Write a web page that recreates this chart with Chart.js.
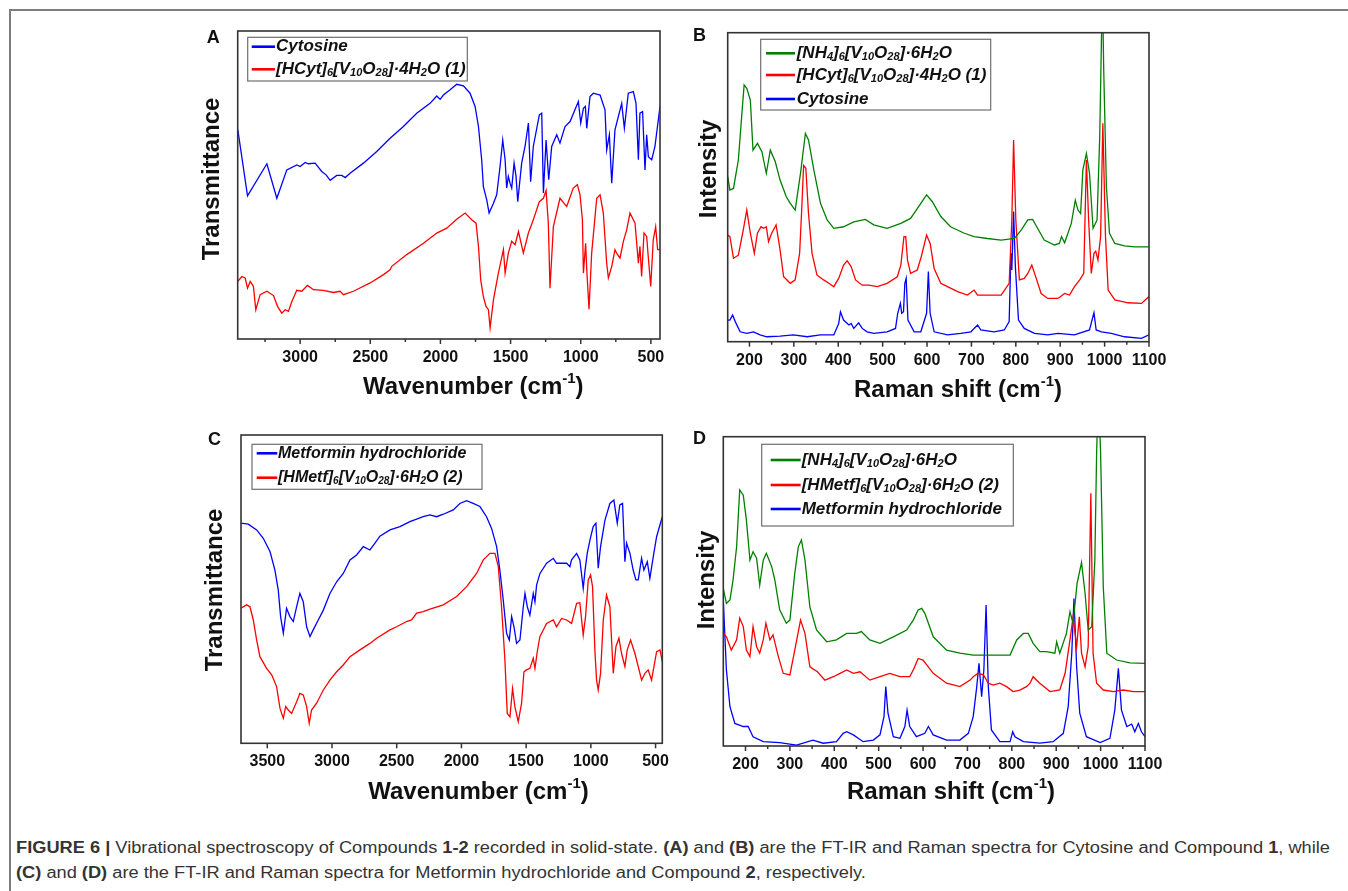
<!DOCTYPE html>
<html>
<head>
<meta charset="utf-8">
<title>Figure 6</title>
<script src="https://cdn.jsdelivr.net/npm/chart.js@4.4.1/dist/chart.umd.min.js"></script>
<style>
  html, body { margin: 0; padding: 0; background: #fff; }
  body { width: 1348px; height: 891px; position: relative; overflow: hidden; }
  .frame { position: absolute; left: 9px; top: 9px; width: 1345px; height: 890px; border-left: 2px solid #7d7d7d; border-top: 2px solid #7d7d7d; }
  canvas { position: absolute; }
  .cap { position: absolute; left: 16px; white-space: nowrap; font-family: "Liberation Sans Narrow", "Liberation Sans", Arial, sans-serif; font-size: 16px; line-height: 18px; color: #333; transform-origin: 0 0; }
</style>
</head>
<body>
<div class="frame"></div>
<canvas id="panelA" width="490" height="390" style="left:190px;top:20px"></canvas>
<canvas id="panelB" width="500" height="390" style="left:680px;top:20px"></canvas>
<canvas id="panelC" width="490" height="400" style="left:190px;top:420px"></canvas>
<canvas id="panelD" width="500" height="400" style="left:680px;top:420px"></canvas>
<div class="cap" id="cap1" style="top:839px"><b>FIGURE 6 |</b> Vibrational spectroscopy of Compounds <b>1-2</b> recorded in solid-state. <b>(A)</b> and <b>(B)</b> are the FT-IR and Raman spectra for Cytosine and Compound <b>1</b>, while</div>
<div class="cap" id="cap2" style="top:864px"><b>(C)</b> and <b>(D)</b> are the FT-IR and Raman spectra for Metformin hydrochloride and Compound <b>2</b>, respectively.</div>
<script>
"use strict";
// ---- Data (wavenumber / Raman shift in cm-1, intensity in relative units 0-100) ----
// A - FT-IR, Cytosine
const irCytX = [3444, 3375, 3237, 3166, 3095, 3024, 3000, 2964, 2941, 2893, 2846, 2815, 2786, 2739, 2703, 2679, 2644, 2549, 2454, 2359, 2264, 2169, 2074, 2026, 2002, 1979, 1931, 1884, 1836, 1789, 1753, 1729, 1706, 1694, 1670, 1653, 1622, 1599, 1575, 1556, 1539, 1528, 1516, 1504, 1492, 1475, 1461, 1449, 1421, 1397, 1373, 1357, 1338, 1295, 1278, 1266, 1247, 1228, 1207, 1171, 1148, 1112, 1076, 1017, 1000, 981, 967, 957, 934, 910, 862, 827, 815, 796, 779, 756, 708, 689, 661, 625, 606, 589, 578, 559, 542, 530, 518, 494, 471, 435];
const irCytY = [67.9, 46.5, 56.9, 45.7, 54.9, 56.5, 56.0, 57.3, 56.9, 57.1, 54.4, 53.3, 51.5, 53.1, 53.1, 52.4, 53.8, 57.1, 60.9, 65.2, 69.0, 73.3, 76.5, 78.9, 77.8, 79.2, 80.9, 82.7, 82.2, 79.8, 75.5, 69.0, 58.2, 49.5, 45.2, 40.9, 44.1, 46.8, 56.0, 64.6, 58.2, 49.0, 52.8, 50.6, 49.0, 57.1, 52.8, 44.6, 57.1, 62.5, 70.1, 51.1, 62.5, 72.8, 73.3, 47.4, 64.6, 51.7, 62.5, 66.3, 63.6, 69.0, 70.6, 77.1, 70.1, 74.9, 75.5, 68.4, 78.7, 79.8, 79.2, 74.4, 61.4, 66.3, 50.6, 67.9, 76.5, 68.4, 79.8, 80.3, 76.5, 58.2, 73.3, 73.8, 54.9, 66.3, 59.2, 58.2, 62.5, 75.5];
// A - FT-IR, compound 1
const irCyt1X = [3444, 3416, 3392, 3375, 3356, 3333, 3316, 3285, 3237, 3190, 3161, 3131, 3107, 3083, 3059, 3024, 2988, 2948, 2905, 2834, 2763, 2715, 2691, 2620, 2501, 2406, 2359, 2347, 2240, 2121, 2026, 1955, 1884, 1824, 1777, 1746, 1729, 1713, 1694, 1675, 1658, 1646, 1622, 1587, 1551, 1539, 1516, 1492, 1468, 1444, 1409, 1373, 1338, 1295, 1266, 1247, 1231, 1219, 1195, 1148, 1100, 1053, 1024, 1005, 988, 981, 965, 957, 941, 922, 886, 862, 839, 815, 803, 779, 756, 744, 720, 696, 672, 649, 613, 589, 578, 566, 549, 530, 518, 501, 483, 466, 452, 435];
const irCyt1Y = [18.7, 20.3, 19.8, 16.5, 18.7, 17.1, 9.5, 14.4, 15.5, 14.1, 10.6, 8.4, 9.5, 9.0, 12.2, 15.8, 15.5, 17.4, 16.0, 15.8, 15.1, 15.5, 14.4, 15.5, 18.2, 20.9, 22.5, 23.6, 27.4, 31.1, 34.4, 36.0, 38.9, 40.9, 38.7, 37.6, 30.1, 19.2, 13.8, 10.6, 9.5, 3.6, 12.8, 21.4, 29.0, 21.4, 27.9, 31.7, 30.6, 34.9, 27.9, 34.4, 38.7, 44.6, 45.7, 48.2, 37.6, 16.5, 36.5, 45.7, 43.0, 49.0, 50.1, 46.8, 38.7, 21.4, 31.1, 22.5, 9.7, 27.9, 45.7, 46.8, 40.9, 24.6, 19.8, 23.6, 29.0, 27.9, 26.3, 31.7, 35.5, 40.9, 37.6, 24.6, 30.1, 20.3, 34.4, 33.3, 26.3, 17.1, 32.2, 36.5, 29.0, 29.0];

// B - Raman, ammonium decavanadate
const ramanV10X = [151, 156, 164, 175, 183, 188, 194, 202, 208, 218, 228, 238, 247, 258, 269, 283, 292, 303, 315, 326, 333, 345, 360, 375, 390, 412, 435, 461, 480, 510, 541, 563, 586, 599, 612, 631, 653, 684, 706, 736, 767, 797, 812, 827, 838, 849, 864, 887, 898, 903, 910, 925, 934, 940, 946, 951, 959, 966, 974, 983, 989, 991, 995, 998, 1004, 1011, 1023, 1045, 1068, 1100];
const ramanV10Y = [53.4, 49.1, 49.6, 58.8, 73.9, 83.1, 82.0, 78.2, 62.0, 64.2, 61.5, 54.5, 62.0, 58.3, 52.3, 46.9, 44.8, 42.6, 54.5, 67.4, 65.3, 55.6, 44.8, 39.4, 36.7, 37.2, 38.8, 39.6, 37.8, 36.7, 38.3, 39.9, 44.8, 47.5, 45.3, 40.5, 37.2, 35.1, 34.0, 33.4, 32.9, 33.4, 36.1, 39.4, 39.6, 36.7, 32.9, 31.3, 31.8, 34.0, 32.0, 38.3, 45.8, 42.6, 41.5, 55.6, 60.9, 54.5, 36.7, 39.4, 66.3, 82.5, 115, 87.9, 50.2, 35.1, 31.8, 31.0, 30.7, 30.7];
// B - Raman, compound 1
const ramanCyt1X = [151, 156, 164, 175, 186, 194, 202, 211, 218, 226, 232, 238, 243, 250, 260, 268, 277, 292, 303, 313, 318, 322, 327, 333, 341, 352, 367, 379, 390, 401, 412, 420, 429, 439, 454, 469, 488, 510, 533, 541, 548, 552, 556, 563, 578, 587, 599, 607, 616, 631, 646, 669, 691, 706, 714, 736, 767, 785, 791, 795, 800, 808, 819, 827, 836, 846, 857, 872, 895, 910, 921, 932, 944, 953, 959, 964, 970, 976, 980, 985, 991, 996, 1002, 1008, 1023, 1053, 1083, 1100];
const ramanCyt1Y = [34.5, 34.0, 27.0, 28.0, 36.1, 42.6, 35.1, 28.6, 35.1, 37.2, 36.7, 37.2, 32.4, 35.1, 37.8, 30.7, 21.0, 18.9, 20.0, 28.6, 43.7, 57.0, 56.1, 41.5, 28.6, 21.6, 20.0, 18.9, 17.8, 20.5, 24.8, 26.2, 24.3, 20.0, 18.3, 18.3, 17.8, 18.9, 21.0, 24.8, 34.0, 34.0, 26.4, 22.1, 23.2, 27.5, 34.5, 31.8, 23.7, 18.9, 17.8, 16.2, 15.1, 16.7, 15.1, 15.1, 15.1, 18.9, 39.4, 65.3, 39.4, 20.0, 20.5, 22.1, 24.8, 20.5, 15.6, 14.0, 14.0, 15.6, 15.1, 17.8, 20.0, 22.1, 58.8, 39.4, 22.1, 28.6, 29.3, 26.4, 34.0, 70.7, 34.0, 16.7, 13.5, 12.6, 12.4, 14.6];
// B - Raman, Cytosine
const ramanCytX = [151, 156, 162, 168, 179, 194, 209, 224, 239, 269, 299, 330, 360, 390, 401, 405, 412, 424, 429, 435, 446, 454, 465, 480, 510, 529, 534, 540, 543, 547, 550, 553, 557, 571, 586, 599, 603, 607, 616, 646, 676, 699, 706, 714, 721, 751, 774, 785, 789, 791, 795, 799, 806, 819, 842, 872, 895, 932, 966, 976, 981, 993, 1015, 1045, 1083, 1100];
const ramanCytY = [7.0, 7.0, 8.6, 6.5, 3.2, 2.7, 3.2, 2.2, 1.6, 1.8, 2.2, 1.6, 2.2, 2.2, 5.9, 9.7, 7.0, 5.4, 5.9, 4.3, 6.1, 4.3, 3.2, 2.7, 3.2, 4.3, 9.2, 12.4, 9.2, 9.7, 18.9, 20.5, 7.0, 3.2, 3.2, 9.2, 22.7, 9.2, 3.2, 2.2, 2.7, 3.2, 4.3, 5.4, 3.8, 3.2, 3.8, 6.5, 28.6, 23.2, 42.1, 24.3, 7.0, 4.3, 2.7, 2.2, 2.7, 2.2, 3.8, 9.4, 3.8, 3.2, 2.7, 1.6, 1.1, 2.2];

// C - FT-IR, Metformin hydrochloride
const irMetX = [3703, 3647, 3582, 3531, 3479, 3441, 3415, 3397, 3376, 3351, 3325, 3299, 3273, 3248, 3222, 3196, 3170, 3145, 3106, 3067, 3016, 2964, 2913, 2861, 2810, 2758, 2707, 2668, 2630, 2552, 2475, 2398, 2295, 2243, 2192, 2140, 2063, 2012, 1960, 1909, 1857, 1806, 1767, 1728, 1703, 1677, 1651, 1630, 1612, 1594, 1574, 1548, 1522, 1509, 1491, 1471, 1445, 1432, 1419, 1393, 1342, 1290, 1265, 1187, 1162, 1149, 1110, 1085, 1059, 1046, 1028, 1007, 982, 961, 943, 925, 891, 853, 822, 796, 776, 755, 737, 724, 698, 673, 652, 634, 608, 590, 564, 544, 518, 492, 448];
const irMetY = [71.4, 71.1, 69.2, 66.5, 62.2, 56.2, 49.7, 41.1, 35.7, 43.8, 41.1, 39.5, 44.3, 48.6, 45.9, 37.8, 34.6, 36.8, 40.0, 43.2, 48.6, 52.4, 55.1, 59.5, 61.1, 63.8, 62.7, 64.9, 67.2, 69.2, 70.3, 71.9, 73.5, 74.1, 73.5, 74.3, 75.7, 77.8, 78.7, 77.8, 76.8, 73.5, 69.7, 63.8, 56.2, 46.5, 35.7, 33.5, 41.1, 37.8, 32.4, 33.5, 44.3, 48.6, 44.3, 41.6, 48.6, 45.9, 51.4, 55.1, 58.4, 60.0, 58.4, 58.4, 57.3, 59.5, 61.6, 59.5, 50.3, 55.7, 61.6, 65.9, 70.3, 71.4, 56.8, 63.8, 72.4, 77.8, 78.9, 71.4, 77.3, 77.8, 58.9, 64.9, 61.6, 56.2, 53.0, 53.0, 60.0, 56.2, 58.9, 53.5, 60.5, 67.0, 73.5];
// C - FT-IR, compound 2
const irMet2X = [3703, 3660, 3634, 3608, 3582, 3557, 3505, 3466, 3428, 3402, 3389, 3376, 3358, 3338, 3312, 3273, 3248, 3222, 3196, 3176, 3158, 3119, 3067, 3016, 2964, 2913, 2861, 2784, 2707, 2655, 2552, 2501, 2424, 2385, 2346, 2295, 2243, 2140, 2037, 1960, 1883, 1831, 1780, 1741, 1715, 1690, 1664, 1646, 1625, 1605, 1587, 1561, 1535, 1517, 1497, 1471, 1445, 1432, 1414, 1394, 1342, 1290, 1265, 1226, 1187, 1149, 1110, 1085, 1059, 1041, 1020, 1002, 987, 969, 956, 943, 925, 904, 879, 853, 827, 806, 783, 763, 737, 719, 693, 660, 634, 608, 582, 557, 531, 492, 466, 448];
const irMet2Y = [43.8, 44.9, 44.3, 40.0, 33.5, 28.1, 24.3, 22.2, 18.4, 11.4, 9.7, 8.1, 11.9, 10.8, 9.7, 13.5, 16.2, 15.7, 11.9, 6.5, 10.8, 13.0, 17.3, 20.5, 23.2, 25.4, 28.1, 30.3, 32.4, 34.1, 36.8, 37.8, 39.5, 40.0, 42.2, 42.7, 43.5, 44.9, 47.6, 50.8, 55.1, 59.5, 61.6, 61.6, 57.3, 44.3, 27.0, 9.7, 8.6, 17.8, 11.9, 7.0, 13.0, 23.2, 23.8, 24.3, 27.6, 24.3, 29.7, 34.6, 38.9, 40.0, 37.8, 40.5, 40.0, 38.9, 45.4, 45.6, 35.1, 41.1, 53.0, 54.6, 50.8, 30.3, 20.5, 17.3, 22.7, 40.0, 48.1, 44.3, 22.7, 31.4, 34.1, 29.2, 24.9, 30.3, 33.5, 29.2, 24.9, 20.5, 22.7, 23.8, 20.5, 29.7, 30.3, 26.5];

// D - Raman, ammonium decavanadate
const ramanV10dX = [150, 157, 165, 172, 180, 187, 195, 202, 210, 217, 225, 232, 240, 247, 259, 266, 277, 292, 300, 311, 319, 326, 334, 345, 360, 383, 405, 428, 450, 461, 480, 503, 533, 563, 578, 589, 597, 604, 623, 653, 683, 713, 743, 773, 796, 811, 826, 837, 848, 863, 878, 897, 901, 908, 923, 931, 938, 947, 957, 965, 972, 980, 987, 991, 995, 1000, 1006, 1014, 1036, 1066, 1100];
const ramanV10dY = [51.0, 46.1, 47.2, 53.7, 64.4, 82.8, 81.1, 73.1, 60.1, 62.8, 60.7, 52.0, 60.1, 62.3, 58.0, 53.7, 44.0, 39.7, 40.7, 55.8, 64.4, 66.6, 60.1, 45.0, 37.5, 33.7, 34.3, 36.4, 36.4, 37.0, 34.3, 33.2, 35.3, 37.5, 40.7, 44.0, 44.5, 42.9, 35.3, 31.0, 30.0, 29.4, 29.4, 29.4, 29.4, 34.3, 36.4, 36.4, 33.2, 30.5, 30.5, 30.0, 33.7, 30.0, 36.4, 43.4, 39.7, 52.6, 59.3, 49.4, 37.5, 38.6, 60.1, 94.6, 116, 94.6, 51.5, 30.0, 27.8, 26.9, 26.7];
// D - Raman, compound 2
const ramanMet2X = [150, 157, 168, 180, 187, 195, 202, 210, 217, 225, 232, 240, 246, 255, 262, 274, 285, 300, 311, 324, 334, 345, 362, 379, 398, 413, 428, 443, 458, 480, 503, 525, 548, 570, 578, 589, 600, 623, 653, 683, 706, 713, 724, 736, 747, 758, 773, 788, 803, 818, 833, 841, 848, 863, 886, 908, 920, 931, 938, 946, 952, 957, 965, 972, 978, 983, 991, 1006, 1029, 1051, 1074, 1100];
const ramanMet2Y = [36.4, 35.3, 31.0, 34.3, 41.3, 38.6, 31.0, 28.9, 38.6, 32.1, 30.0, 34.3, 39.7, 34.3, 35.9, 28.9, 23.5, 23.0, 31.0, 40.7, 36.4, 25.6, 24.0, 21.3, 22.4, 23.5, 24.6, 23.5, 24.0, 21.3, 22.4, 23.5, 22.4, 22.4, 24.6, 28.3, 27.8, 23.5, 20.3, 19.2, 21.3, 22.4, 23.5, 23.0, 20.3, 19.7, 20.3, 19.2, 17.6, 18.1, 19.2, 20.3, 22.4, 20.3, 17.6, 18.1, 23.5, 34.3, 41.8, 32.1, 41.8, 30.0, 25.6, 32.1, 81.7, 30.0, 20.3, 18.1, 17.6, 18.1, 17.6, 17.6];
// D - Raman, Metformin hydrochloride
const ramanMetX = [150, 157, 165, 176, 195, 206, 217, 240, 277, 315, 352, 375, 405, 420, 428, 443, 465, 488, 503, 512, 516, 521, 533, 548, 559, 564, 570, 585, 604, 612, 623, 653, 683, 702, 713, 721, 726, 732, 737, 742, 747, 754, 773, 796, 802, 807, 826, 863, 893, 916, 927, 935, 940, 946, 953, 968, 999, 1021, 1032, 1040, 1047, 1059, 1070, 1077, 1085, 1092, 1100];
const ramanMetY = [47.2, 24.6, 12.7, 7.3, 6.3, 6.3, 3.0, 1.4, 1.1, 0.3, 1.9, 0.9, 1.4, 4.1, 4.6, 3.6, 1.4, 1.9, 3.6, 9.5, 19.2, 10.6, 3.0, 2.5, 6.3, 11.6, 6.3, 3.0, 4.1, 6.3, 3.6, 1.9, 1.9, 4.1, 9.5, 19.2, 26.7, 15.9, 24.6, 45.6, 19.2, 5.2, 1.4, 1.4, 4.6, 3.0, 1.4, 0.9, 1.4, 4.1, 12.7, 30.0, 47.7, 25.6, 10.6, 3.0, 1.1, 2.5, 11.6, 25.1, 11.6, 6.3, 7.1, 4.6, 7.3, 4.6, 3.0];

// Tick values
const irMajorA = [3000, 2500, 2000, 1500, 1000, 500];
const irMinorA = [3250, 2750, 2250, 1750, 1250, 750];
const irMajorC = [3500, 3000, 2500, 2000, 1500, 1000, 500];
const irMinorC = [];
const ramanMajor = [200, 300, 400, 500, 600, 700, 800, 900, 1000, 1100];
const ramanMinor = [250, 350, 450, 550, 650, 750, 850, 950, 1050];

// Legend labels ( _{..} = subscript, ^{..} = superscript )
const LBL_CYT = "Cytosine";
const LBL_CMP1 = "[HCyt]_{6}[V_{10}O_{28}]·4H_{2}O (1)";
const LBL_V10 = "[NH_{4}]_{6}[V_{10}O_{28}]·6H_{2}O";
const LBL_MET = "Metformin hydrochloride";
const LBL_CMP2 = "[HMetf]_{6}[V_{10}O_{28}]·6H_{2}O (2)";

const BLUE = "#0000ff";
const RED = "#ff0000";
const GREEN = "#008000";
const FAMILY = '"Liberation Sans", Arial, Helvetica, sans-serif';

function pts(xs, ys) {
    return xs.map(function (x, i) { return { x: x, y: ys[i] }; });
}

// Rich Text - Splits Text Into Normal / Subscript / Superscript Parts
function richParts(str) {
    const parts = [];
    const re = /([_^])\{([^}]*)\}/g;
    let last = 0;
    let m;
    while ((m = re.exec(str))) {
        if (m.index > last) parts.push({ t: str.slice(last, m.index), k: 0 });
        parts.push({ t: m[2], k: m[1] === "_" ? 1 : -1 });
        last = re.lastIndex;
    }
    if (last < str.length) parts.push({ t: str.slice(last), k: 0 });
    return parts;
}
function drawRich(ctx, str, x, y, size, style, align) {
    const parts = richParts(str);
    const fontFor = function (p) {
        return style + " " + (p.k ? Math.round(size * 0.62) : size) + "px " + FAMILY;
    };
    let w = 0;
    parts.forEach(function (p) { ctx.font = fontFor(p); p.w = ctx.measureText(p.t).width; w += p.w; });
    let cx = align === "center" ? x - w / 2 : x;
    ctx.textAlign = "left";
    ctx.textBaseline = "middle";
    parts.forEach(function (p) {
        ctx.font = fontFor(p);
        const dy = p.k === 1 ? size * 0.24 : (p.k === -1 ? -size * 0.34 : 0);
        ctx.fillText(p.t, cx, y + dy);
        cx += p.w;
    });
}

// Plugin - Tick Marks, Plot Frame, Legend, Panel Letter And Axis Titles
const panelDecor = {
    id: "panelDecor",
    afterDraw: function (chart, args, opts) {
        const ctx = chart.ctx;
        const area = chart.chartArea;
        const xScale = chart.scales.x;
        ctx.save();
        ctx.strokeStyle = "#333333";
        ctx.lineWidth = 1.5;
        xScale.ticks.forEach(function (tick) {
            const px = xScale.getPixelForValue(tick.value);
            const len = opts.majors.indexOf(tick.value) >= 0 ? 5 : 3;
            ctx.beginPath();
            ctx.moveTo(px, area.bottom);
            ctx.lineTo(px, area.bottom + len);
            ctx.stroke();
        });
        ctx.lineWidth = 1.6;
        ctx.strokeRect(area.left, area.top, area.right - area.left, area.bottom - area.top);
        // Legend
        const lg = opts.legend;
        ctx.fillStyle = "#ffffff";
        ctx.fillRect(lg.x, lg.y, lg.w, lg.h);
        ctx.strokeStyle = "#6e6e6e";
        ctx.lineWidth = 1.2;
        ctx.strokeRect(lg.x, lg.y, lg.w, lg.h);
        chart.data.datasets.forEach(function (ds, i) {
            const ry = lg.rows[i];
            ctx.strokeStyle = ds.borderColor;
            ctx.lineWidth = 2.6;
            ctx.beginPath();
            ctx.moveTo(lg.lineX0, ry);
            ctx.lineTo(lg.lineX1, ry);
            ctx.stroke();
            ctx.fillStyle = "#111111";
            drawRich(ctx, ds.label, lg.textX, ry, lg.size, "italic bold", "left");
        });
        // Letter And Titles
        ctx.fillStyle = "#111111";
        drawRich(ctx, opts.letter[0], opts.letter[1], opts.letter[2], 18, "bold", "center");
        drawRich(ctx, opts.xTitle[0], opts.xTitle[1], opts.xTitle[2], 24, "bold", "center");
        ctx.save();
        ctx.translate(opts.yTitle[1], opts.yTitle[2]);
        ctx.rotate(-Math.PI / 2);
        drawRich(ctx, opts.yTitle[0], 0, 0, 24, "bold", "center");
        ctx.restore();
        ctx.restore();
    }
};

function makePanel(id, cfg) {
    const allTicks = cfg.majors.concat(cfg.minors).sort(function (a, b) { return a - b; });
    cfg.decor.majors = cfg.majors;
    return new Chart(document.getElementById(id), {
        type: "line",
        data: {
            datasets: cfg.series.map(function (s) {
                return {
                    label: s.label,
                    data: pts(s.x, s.y),
                    borderColor: s.color,
                    borderWidth: 1.3,
                    pointRadius: 0,
                    tension: 0,
                    fill: false,
                };
            })
        },
        options: {
            responsive: false,
            animation: false,
            events: [],
            layout: { padding: cfg.padding },
            plugins: {
                legend: { display: false },
                tooltip: { enabled: false },
                panelDecor: cfg.decor,
            },
            scales: {
                x: {
                    type: "linear",
                    min: cfg.xMin,
                    max: cfg.xMax,
                    reverse: cfg.reverse,
                    afterBuildTicks: function (scale) {
                        scale.ticks = allTicks.map(function (v) { return { value: v }; });
                    },
                    afterFit: function (scale) { scale.height = 30; },
                    grid: { display: false, drawTicks: false },
                    border: { display: false },
                    ticks: {
                        autoSkip: false,
                        maxRotation: 0,
                        minRotation: 0,
                        padding: 9,
                        color: "#111111",
                        font: { family: FAMILY, size: 16, weight: "bold" },
                        callback: function (value) {
                            return cfg.majors.indexOf(value) >= 0 ? String(value) : "";
                        }
                    }
                },
                y: { display: false, min: 0, max: 100 }
            }
        },
        plugins: [panelDecor],
    });
}

// Panel A - FT-IR Cytosine / Compound 1
makePanel("panelA", {
    xMin: 435, xMax: 3445, reverse: true,
    majors: irMajorA, minors: irMinorA,
    padding: { left: 47.7, right: 20, top: 11, bottom: 41 },
    series: [
        { label: LBL_CYT, x: irCytX, y: irCytY, color: BLUE },
        { label: LBL_CMP1, x: irCyt1X, y: irCyt1Y, color: RED },
    ],
    decor: {
        legend: { x: 57.7, y: 17.3, w: 219.6, h: 43.7, rows: [26.7, 49.3], lineX0: 61.7, lineX1: 85, textX: 86, size: 17 },
        letter: ["A", 23.3, 18.3],
        xTitle: ["Wavenumber (cm^{-1})", 283.3, 367],
        yTitle: ["Transmittance", 22, 159],
    }
});

// Panel B - Raman
makePanel("panelB", {
    xMin: 151, xMax: 1100, reverse: false,
    majors: ramanMajor, minors: ramanMinor,
    padding: { left: 47.7, right: 31, top: 12.7, bottom: 38.3 },
    series: [
        { label: LBL_V10, x: ramanV10X, y: ramanV10Y, color: GREEN },
        { label: LBL_CMP1, x: ramanCyt1X, y: ramanCyt1Y, color: RED },
        { label: LBL_CYT, x: ramanCytX, y: ramanCytY, color: BLUE },
    ],
    decor: {
        legend: { x: 80.7, y: 19.3, w: 230, h: 70.7, rows: [33.3, 55, 79], lineX0: 86, lineX1: 115, textX: 116.7, size: 17 },
        letter: ["B", 19.5, 16.5],
        xTitle: ["Raman shift (cm^{-1})", 278, 370],
        yTitle: ["Intensity", 29, 149],
    }
});

// Panel C - FT-IR Metformin / Compound 2
makePanel("panelC", {
    xMin: 448, xMax: 3703, reverse: true,
    majors: irMajorC, minors: irMinorC,
    padding: { left: 51, right: 17.7, top: 15, bottom: 46.7 },
    series: [
        { label: LBL_MET, x: irMetX, y: irMetY, color: BLUE },
        { label: LBL_CMP2, x: irMet2X, y: irMet2Y, color: RED },
    ],
    decor: {
        legend: { x: 62, y: 24.3, w: 230, h: 45, rows: [33.3, 57.7], lineX0: 66.7, lineX1: 87.3, textX: 88, size: 16 },
        letter: ["C", 24.5, 20],
        xTitle: ["Wavenumber (cm^{-1})", 288.5, 372],
        yTitle: ["Transmittance", 25, 170],
    }
});

// Panel D - Raman
makePanel("panelD", {
    xMin: 150, xMax: 1100, reverse: false,
    majors: ramanMajor, minors: ramanMinor,
    padding: { left: 43.3, right: 35, top: 16.7, bottom: 44 },
    series: [
        { label: LBL_V10, x: ramanV10dX, y: ramanV10dY, color: GREEN },
        { label: LBL_CMP2, x: ramanMet2X, y: ramanMet2Y, color: RED },
        { label: LBL_MET, x: ramanMetX, y: ramanMetY, color: BLUE },
    ],
    decor: {
        legend: { x: 81.7, y: 24.3, w: 251.6, h: 81.7, rows: [40, 65, 89], lineX0: 90.7, lineX1: 120.7, textX: 121.7, size: 17 },
        letter: ["D", 19.5, 19.5],
        xTitle: ["Raman shift (cm^{-1})", 271, 372],
        yTitle: ["Intensity", 27, 160],
    }
});

// Caption - Fit First Line To Its Width In The Figure
const cap1 = document.getElementById("cap1");
const cap2 = document.getElementById("cap2");
const capScale = 1314 / cap1.getBoundingClientRect().width;
cap1.style.transform = "scaleX(" + capScale + ")";
cap2.style.transform = "scaleX(" + capScale + ")";
</script>
</body>
</html>
